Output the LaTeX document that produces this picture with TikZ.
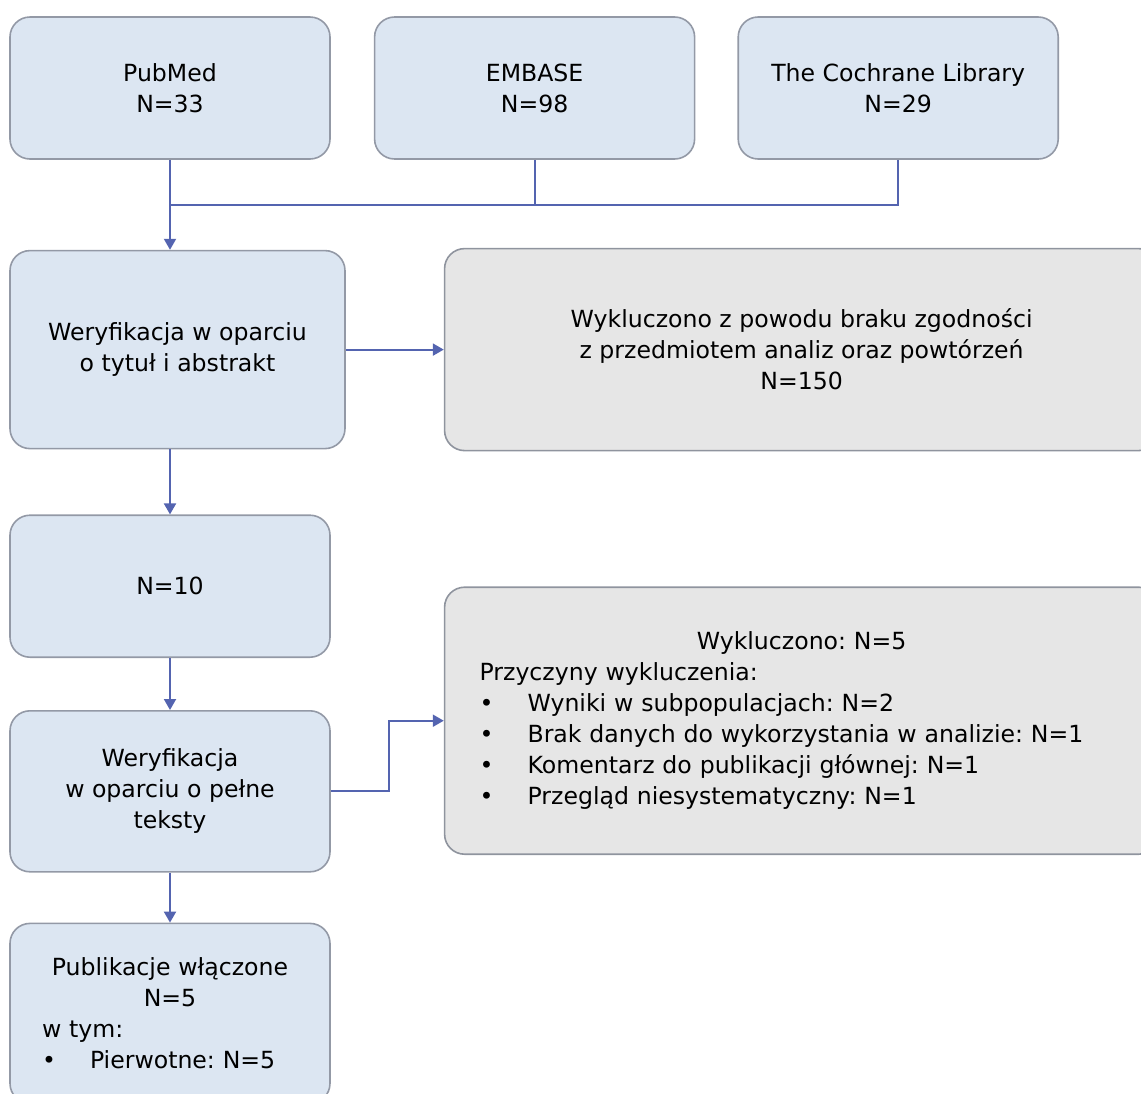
\documentclass[tikz,border=0pt]{standalone}
\usepackage{fontspec}
\setmainfont{DejaVu Sans}
\usepackage{tikz}
\usetikzlibrary{arrows.meta,positioning}
\definecolor{boxblue}{HTML}{DCE6F2}
\definecolor{boxgray}{HTML}{E6E6E6}
\definecolor{edgeblue}{HTML}{5464B0}
\definecolor{rimgray}{HTML}{9399A6}
\newcommand{\bul}{\makebox[24pt][l]{\textbullet}}
\frenchspacing

\begin{document}
\begin{tikzpicture}[->,>={Triangle[length=5.5pt,width=6pt]},line width=1pt,draw=edgeblue,
  flow node/.style={rectangle,rounded corners=10pt,draw=rimgray,fill=boxblue,line width=0.8pt,
    text=black,minimum width=160pt,minimum height=71pt,align=center,
    font=\fontsize{11.8}{15.5}\selectfont},
  excl node/.style={flow node,fill=boxgray,draw=rimgray!80!gray,minimum width=357pt}]

  \useasboundingbox (0,0) rectangle (570.5pt,-546.5pt);
  \clip (0,0) rectangle (570.5pt,-546.5pt);

  \node[flow node] (pubmed) at (85pt,-44pt) {PubMed\\N=33};
  \node[flow node] (embase) [right=21.5pt of pubmed] {EMBASE\\N=98};
  \node[flow node] (cochrane) [right=21pt of embase] {The Cochrane Library\\N=29};
  \node[flow node,minimum width=167.5pt,minimum height=99pt] (weryf1)
    [below=45pt of pubmed.south west,anchor=north west] {Weryfikacja w oparciu\\o tytuł i abstrakt};
  \node[excl node,minimum height=101pt] (excl1) [right=49pt of weryf1]
    {Wykluczono z powodu braku zgodności\\z przedmiotem analiz oraz powtórzeń\\N=150};
  \node[flow node] (nten) [below=32.5pt of weryf1.south west,anchor=north west] {N=10};
  \node[flow node,minimum height=80.5pt] (weryf2) [below=26pt of nten]
    {Weryfikacja\\w oparciu o pełne\\teksty};
  \node[excl node,minimum height=133.5pt,text width=322pt,align=left] (excl2) [below=67.5pt of excl1]
    {\makebox[\hsize]{Wykluczono: N=5}\\
     Przyczyny wykluczenia:\\
     \bul Wyniki w subpopulacjach: N=2\\
     \bul Brak danych do wykorzystania w analizie: N=1\\
     \bul Komentarz do publikacji głównej: N=1\\
     \bul Przegląd niesystematyczny: N=1};
  \node[flow node,minimum height=90pt,text width=128pt,align=left] (publ) [below=25pt of weryf2]
    {\makebox[\hsize]{Publikacje włączone}\\
     \makebox[\hsize]{N=5}\\
     w tym:\\
     \bul Pierwotne: N=5};

  \coordinate[below=22.5pt of pubmed.south] (join);
  \draw[-] (embase.south) |- (join);
  \draw[-] (cochrane.south) |- (join);
  \draw (pubmed.south) -- (pubmed.south |- weryf1.north);
  \draw (weryf1.east) -- (excl1.west);
  \draw (nten.north |- weryf1.south) -- (nten.north);
  \draw (nten) -- (weryf2);
  \draw (weryf2.east) -- ++(29pt,0) |- (excl2.west);
  \draw (weryf2) -- (publ);
\end{tikzpicture}
\end{document}
